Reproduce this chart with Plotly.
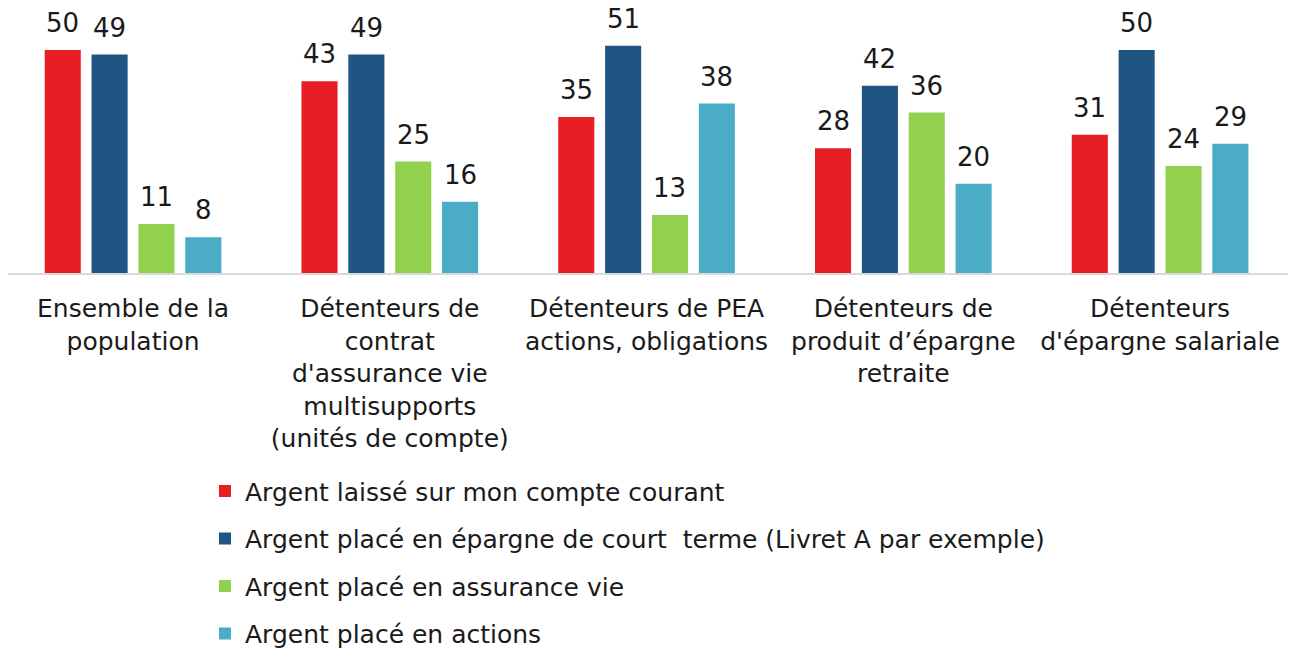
import plotly.graph_objects as go

categories = [
    "Ensemble de la<br>population",
    "Détenteurs de<br>contrat<br>d'assurance vie<br>multisupports<br>(unités de compte)",
    "Détenteurs de PEA<br>actions, obligations",
    "Détenteurs de<br>produit d’épargne<br>retraite",
    "Détenteurs<br>d'épargne salariale",
]
series_names = [
    "Argent laissé sur mon compte courant",
    "Argent placé en épargne de court  terme (Livret A par exemple)",
    "Argent placé en assurance vie",
    "Argent placé en actions",
]
compte_courant = [50, 43, 35, 28, 31]
epargne_court = [49, 49, 51, 42, 50]
assurance_vie = [11, 25, 13, 36, 24]
actions = [8, 16, 38, 20, 29]
colors = ["#E81E25", "#1F5483", "#92D050", "#4BACC6"]

FONT = "DejaVu Sans"
W, H = 1296, 650
ML, MR, MT, MB = 0, 14, 2, 385
BARGAP, GROUPGAP = 0.27, 0.23
X_RANGE = [-0.487, 4.506]
all_series = [compte_courant, epargne_court, assurance_vie, actions]

fig = go.Figure()
for i, (name, vals) in enumerate(zip(series_names, all_series)):
    fig.add_trace(go.Bar(
        x=categories, y=vals, name=name, marker_color=colors[i],
        marker_line_width=0, cliponaxis=False, legendgroup=f"g{i}",
    ))

# value labels above bars, offset to each bar of the group
group_px = (W - ML - MR) / (X_RANGE[1] - X_RANGE[0])
slot = group_px * (1 - BARGAP) / len(all_series)
for i, vals in enumerate(all_series):
    for cat, v in zip(categories, vals):
        fig.add_annotation(
            x=cat, y=v, text=str(v), showarrow=False,
            xanchor="center", yanchor="bottom",
            xshift=(i - (len(all_series) - 1) / 2) * slot, yshift=10,
            font=dict(size=26, family=FONT, color="#1a1a1a"),
        )

fig.update_layout(
    width=W, height=H,
    margin=dict(l=ML, r=MR, t=MT, b=MB, autoexpand=False),
    plot_bgcolor="white", paper_bgcolor="white",
    barmode="group", bargap=BARGAP, bargroupgap=GROUPGAP,
    font=dict(family=FONT, size=25, color="#1a1a1a"),
    showlegend=True,
    legend=dict(
        orientation="v", xref="container", yref="container",
        x=0.152, y=0.292, xanchor="left", yanchor="top",
        font=dict(size=25, family=FONT, color="#1a1a1a"),
        tracegroupgap=12, itemwidth=30,
    ),
    xaxis=dict(showline=True, linecolor="#D9D9D9", linewidth=2, ticks="",
               tickangle=0, automargin=False, ticklabelstandoff=12,
               range=X_RANGE,
               tickfont=dict(size=25, family=FONT, color="#1a1a1a"), showgrid=False),
    yaxis=dict(visible=False, range=[0, 59], showgrid=False, zeroline=False),
)
fig.write_html("out.html")
